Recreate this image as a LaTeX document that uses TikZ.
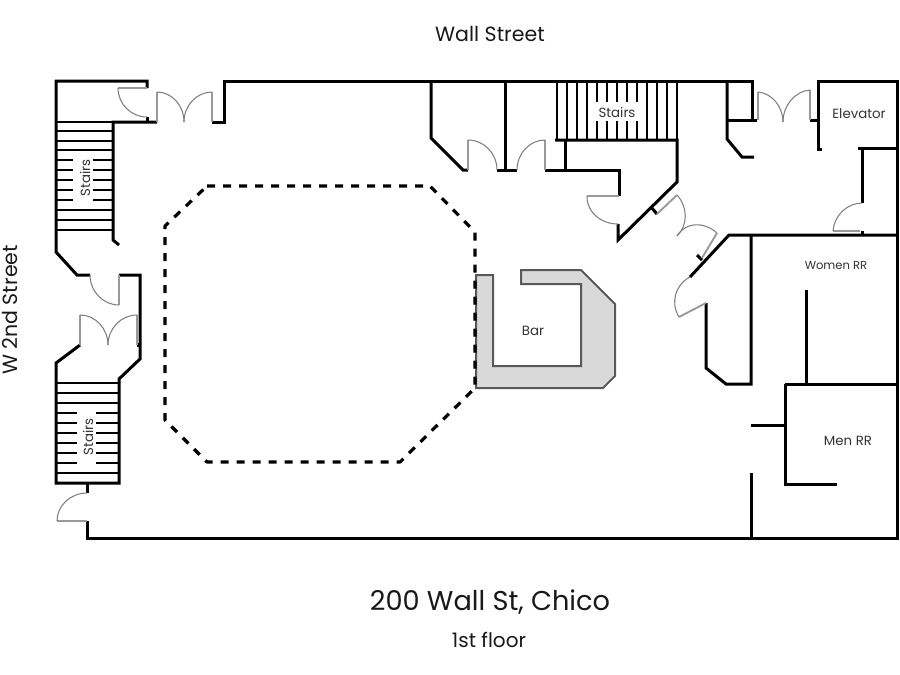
\documentclass[tikz,border=0pt]{standalone}
\usepackage{fontspec}
\setmainfont{Poppins}
\usetikzlibrary{calc}
\tikzset{
  wall/.style={draw=black,line width=2.25pt,line join=miter,line cap=butt},
  tread/.style={draw=black,line width=1.2pt},
  dashline/.style={draw=black,line width=2.4pt,dash pattern=on 6pt off 6pt,line join=round},
  barshape/.style={fill=black!15,draw=black!65,line width=1.5pt},
  leafline/.style={draw=black!40,line width=1.4pt},
  leafarc/.style={draw=black!50,line width=0.8pt},
  lbl/.style={text=black!80,inner sep=0pt,font=\fontsize{10}{12}\selectfont},
  street/.style={text=black!90,inner sep=0pt,font=\fontsize{15.4}{18}\selectfont}
}
% hinge, leaf tip, arc end
\newcommand{\doorswing}[3]{%
  \draw[leafline] (#1) -- (#2);
  \draw[leafarc] (#2) .. controls ($(#2)!0.55!($(#2)+(#3)-(#1)$)$) and ($(#3)!0.55!($(#2)+(#3)-(#1)$)$) .. (#3);
}
\begin{document}
\begin{tikzpicture}[x=0.75pt,y=-0.75pt]
\useasboundingbox[fill=white] (0,0) rectangle (900,675);

% bar
\path[barshape] (476,275) -- (493,275) -- (493,366) -- (581,366) -- (581,284) -- (521,284) -- (521,270) -- (581,270) -- (615,304) -- (615,376) -- (603,388) -- (476,388) -- cycle;

% dance floor outline
\draw[dashline] (207,186) -- (430,186) -- (475,232) -- (475,388) -- (400,462) -- (207,462) -- (165,420) -- (165,226) -- cycle;

% left stairs, upper
\foreach \y in {122,131,141,150,210,220,230} \draw[tread] (56,\y) -- (112,\y);
\foreach \y in {160,170,180,190,200} {\draw[tread] (56,\y) -- (73,\y); \draw[tread] (93,\y) -- (112,\y);}
% left stairs, lower
\foreach \y in {383,393,403,473} \draw[tread] (56,\y) -- (119,\y);
\foreach \y in {413,423,433,443,453,463} {\draw[tread] (56,\y) -- (77,\y); \draw[tread] (96,\y) -- (119,\y);}
% top stairs
\foreach \x in {557,567,577,587,647,657,667,677} \draw[tread] (\x,81) -- (\x,140);
\foreach \x in {597,607,617,627,637} {\draw[tread] (\x,81) -- (\x,102); \draw[tread] (\x,121) -- (\x,140);}

% walls
\draw[wall] (147,88) -- (147,81) -- (56,81) -- (56,252) -- (77,275) -- (90,275);
\draw[wall] (147,117) -- (147,122);
\draw[wall] (157,122) -- (113,122) -- (113,240) -- (119,245);
\draw[wall] (212,122) -- (224,122) -- (224,81) -- (752,81) -- (752,120);
\draw[wall] (119,275) -- (140,275) -- (140,359) -- (119,379) -- (119,483) -- (56,483) -- (56,363) -- (80,345);
\draw[wall] (138,343) -- (138,347);
\draw[wall] (87,483) -- (87,493);
\draw[wall] (87,521) -- (87,538) -- (897,538) -- (897,81) -- (818,81) -- (818,149) -- (822,149);
\draw[wall] (431,81) -- (431,138) -- (463,170) -- (468,170);
\draw[wall] (505,81) -- (505,170);
\draw[wall] (497,170) -- (517,170);
\draw[wall] (545,170) -- (619,170) -- (619,196);
\draw[wall] (565,140) -- (565,170);
\draw[wall] (555,140) -- (677,140) -- (677,182) -- (618,240) -- (618,224);
\draw[wall] (651,207) -- (657,214);
\draw[wall] (697,255) -- (702,260);
\draw[wall] (690,277) -- (729,235) -- (897,235);
\draw[wall] (706,303) -- (706,368) -- (726,384) -- (751,384) -- (751,235);
\draw[wall] (757,120) -- (727,120);
\draw[wall] (727,81) -- (727,139) -- (742,157) -- (754,157);
\draw[wall] (810,120) -- (818,120);
\draw[wall] (858,148) -- (897,148);
\draw[wall] (862,148) -- (862,203);
\draw[wall] (862,231) -- (862,235);
\draw[wall] (806,290) -- (806,384);
\draw[wall] (785,384) -- (897,384);
\draw[wall] (785,384) -- (785,484) -- (837,484);
\draw[wall] (751,425) -- (785,425);
\draw[wall] (751,473) -- (751,538);

% doors
\doorswing{147,88}{118,88}{147,117}
\doorswing{157,122}{157,92}{184,122}
\doorswing{212,122}{212,92}{184,122}
\doorswing{119,275}{119,305}{90,275}
\doorswing{80,345}{80,315}{108,345}
\doorswing{137,345}{137,315}{108,345}
\doorswing{87,521}{57,521}{87,493}
\doorswing{468,170}{468,140}{497,170}
\doorswing{545,170}{545,140}{517,170}
\doorswing{619,196}{587,196}{618,224}
\doorswing{657,214}{677,195}{677,236}
\doorswing{702,258}{717,233}{677,236}
\doorswing{706,303}{679,317}{690,277}
\doorswing{758,120}{758,92}{783,122}
\doorswing{810,120}{810,90}{783,122}
\doorswing{860,231}{833,231}{862,203}

% labels
\node[street] (wall) at (490,34) {Wall Street};
\node[street,rotate=90] (second) at (10,310) {W 2nd Street};
\node[text=black!90,inner sep=0pt,font=\fontsize{20.4}{24}\selectfont] (title) at (490,602) {200 Wall St, Chico};
\node[street,font=\fontsize{15}{18}\selectfont] (floor) at (489,640) {1st floor};
\node[lbl,rotate=90] (s1) at (85,178) {Stairs};
\node[lbl,rotate=90] (s2) at (88,437) {Stairs};
\node[lbl] (s3) at (617,112) {Stairs};
\node[lbl] (el) at (859,114) {Elevator};
\node[lbl,font=\fontsize{8.7}{11}\selectfont] (wr) at (836,266) {Women RR};
\node[lbl] (mr) at (848,441) {Men RR};
\node[lbl] (bar) at (533,331) {Bar};
\end{tikzpicture}
\end{document}
